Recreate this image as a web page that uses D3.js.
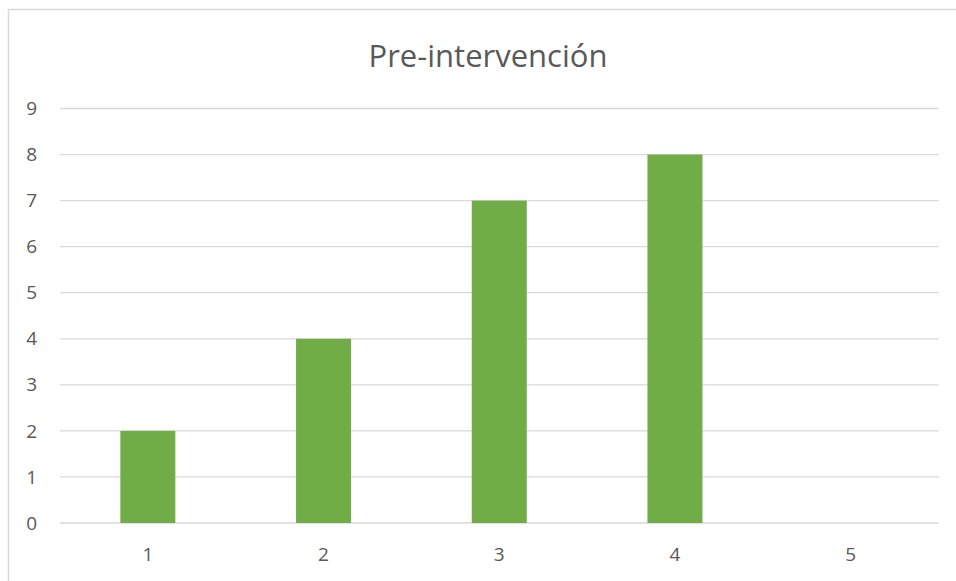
<!DOCTYPE html>
<html>
<head>
<meta charset="utf-8">
<script src="https://cdn.jsdelivr.net/npm/d3@7"></script>
<style>
  body { margin: 0; background: #fff; }
  svg text { font-family: "Open Sans", "Noto Sans", sans-serif; fill: #595959; }
</style>
</head>
<body>
<svg id="chart" width="956" height="581"></svg>
<script>
const categories = ["1", "2", "3", "4", "5"];
const values = [2, 4, 7, 8, 0];
const yTicks = [0, 1, 2, 3, 4, 5, 6, 7, 8, 9];
const title = "Pre-intervención";

const svg = d3.select("#chart");
const width = 956, height = 581;
const margin = { top: 108.5, right: 17.5, bottom: 58, left: 60 };

// outer chart border (cut off at the right/bottom like the reference)
svg.append("rect")
    .attr("x", 8.5).attr("y", 9.5)
    .attr("width", 960).attr("height", 600)
    .attr("fill", "white")
    .attr("stroke", "#d9d9d9")
    .attr("stroke-width", 1.5);

const x = d3.scaleBand()
    .domain(categories)
    .range([margin.left, width - margin.right])
    .paddingInner(0.687)
    .paddingOuter(0.3435);

const y = d3.scaleLinear()
    .domain([0, 9])
    .range([523, margin.top]);

// gridlines
svg.append("g")
    .selectAll("line")
    .data(yTicks)
    .enter().append("line")
    .attr("x1", margin.left)
    .attr("x2", width - margin.right)
    .attr("y1", d => y(d))
    .attr("y2", d => y(d))
    .attr("stroke", "#d9d9d9")
    .attr("stroke-width", 1.3);

// y labels
svg.append("g")
    .selectAll("text")
    .data(yTicks)
    .enter().append("text")
    .attr("x", 37)
    .attr("y", d => y(d))
    .attr("dy", "0.35em")
    .attr("text-anchor", "end")
    .attr("font-size", "19px")
    .text(d => d);

// bars
svg.append("g")
    .selectAll("rect")
    .data(values)
    .enter().append("rect")
    .attr("x", (d, i) => x(categories[i]))
    .attr("width", x.bandwidth())
    .attr("y", d => y(d))
    .attr("height", d => y(0) - y(d))
    .attr("fill", "#70ad47");

// x labels
svg.append("g")
    .selectAll("text")
    .data(categories)
    .enter().append("text")
    .attr("x", d => x(d) + x.bandwidth() / 2)
    .attr("y", 554)
    .attr("dy", "0.35em")
    .attr("text-anchor", "middle")
    .attr("font-size", "19px")
    .text(d => d);

// title
svg.append("text")
    .attr("x", 488)
    .attr("y", 67)
    .attr("text-anchor", "middle")
    .attr("font-size", "31px")
    .text(title);
</script>
</body>
</html>
